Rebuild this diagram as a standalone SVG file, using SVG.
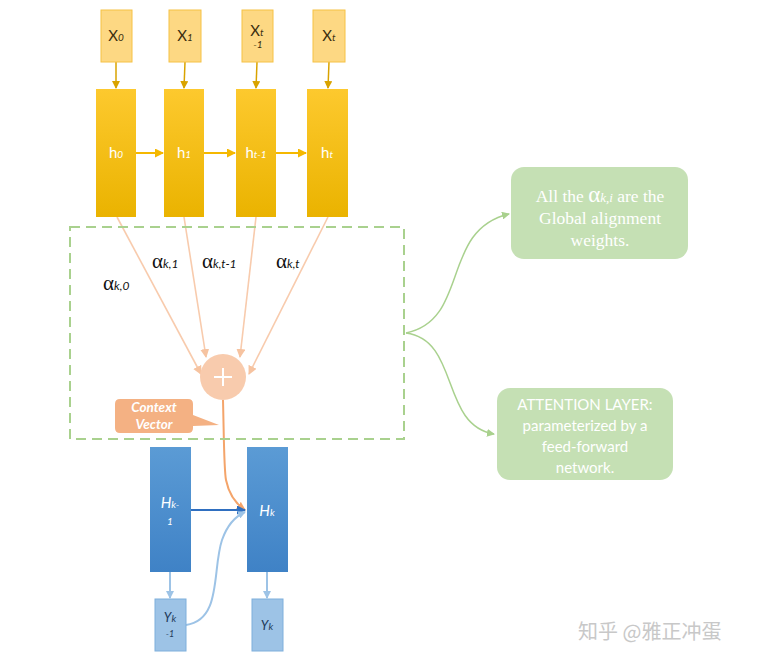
<svg xmlns="http://www.w3.org/2000/svg" width="780" height="667" viewBox="0 0 780 667">
<defs>
<linearGradient id="gy" x1="0" y1="0" x2="0" y2="1"><stop offset="0" stop-color="#fdc92e"/><stop offset="1" stop-color="#eab300"/></linearGradient>
<linearGradient id="gb" x1="0" y1="0" x2="0" y2="1"><stop offset="0" stop-color="#5b9bd5"/><stop offset="1" stop-color="#3f82c6"/></linearGradient>
<marker id="ay" markerWidth="8" markerHeight="8" refX="7" refY="4" orient="auto" markerUnits="userSpaceOnUse"><path d="M0,0 L8,4 L0,8 Z" fill="#d9a300"/></marker>
<marker id="ah" markerWidth="9" markerHeight="9" refX="8" refY="4.5" orient="auto" markerUnits="userSpaceOnUse"><path d="M0,0 L9,4.5 L0,9 Z" fill="#f5b800"/></marker>
<marker id="ap" markerWidth="9" markerHeight="9" refX="8" refY="4.5" orient="auto" markerUnits="userSpaceOnUse"><path d="M0,0 L9,4.5 L0,9 Z" fill="#f6c3a0"/></marker>
<marker id="ao" markerWidth="9" markerHeight="9" refX="8" refY="4.5" orient="auto" markerUnits="userSpaceOnUse"><path d="M0,0 L9,4.5 L0,9 Z" fill="#f4a46a"/></marker>
<marker id="ab" markerWidth="9" markerHeight="9" refX="8" refY="4.5" orient="auto" markerUnits="userSpaceOnUse"><path d="M0,0 L9,4.5 L0,9 Z" fill="#2f6fc0"/></marker>
<marker id="al" markerWidth="8" markerHeight="8" refX="7" refY="4" orient="auto" markerUnits="userSpaceOnUse"><path d="M0,0 L8,4 L0,8 Z" fill="#9dc3e6"/></marker>
<marker id="ag" markerWidth="8" markerHeight="8" refX="7" refY="4" orient="auto" markerUnits="userSpaceOnUse"><path d="M0,0 L8,4 L0,8 Z" fill="#a9d18e"/></marker>
</defs>
<style>
.xb{fill:#fdd883;stroke:#f6c244;stroke-width:1}
.hb{fill:url(#gy)}
.bb{fill:url(#gb)}
.yb{fill:#9dc3e6;stroke:#7fafdc;stroke-width:1}
.gbx{fill:#c5e0b4}
.t{font-family:Lato,"Open Sans","Liberation Sans",sans-serif}
.xt{font-size:15px;fill:#3a2e10;text-anchor:middle}
.ht{font-size:15px;fill:#ffffff;text-anchor:middle}
.sub{font-style:italic;font-size:10px}
.al{font-size:21px;fill:#111;font-family:"Liberation Serif",serif}
.als{font-size:12px;font-style:italic;font-family:Lato,"Liberation Sans",sans-serif}
.gt{fill:#ffffff;font-size:15px;text-anchor:middle}
.sf{font-family:"Liberation Serif","DejaVu Serif",serif;font-size:17.5px}
</style>
<rect width="780" height="667" fill="#ffffff"/>

<g id="connectors">
<g stroke="#d9a300" stroke-width="1.5" fill="none" marker-end="url(#ay)">
<line x1="116" y1="62" x2="116" y2="88"/>
<line x1="185" y1="62" x2="184" y2="88"/>
<line x1="257" y1="62" x2="256" y2="88"/>
<line x1="329" y1="62" x2="328" y2="88"/>
</g>
<g stroke="#f5b800" stroke-width="2" fill="none" marker-end="url(#ah)">
<line x1="136" y1="153" x2="163" y2="153"/>
<line x1="204" y1="153" x2="235" y2="153"/>
<line x1="276" y1="153" x2="306" y2="153"/>
</g>
<g stroke="#f8cbad" stroke-width="1.6" fill="none" marker-end="url(#ap)">
<line x1="117" y1="217" x2="201" y2="374"/>
<line x1="184" y1="217" x2="206" y2="357"/>
<line x1="256" y1="217" x2="240" y2="357"/>
<line x1="328" y1="217" x2="249" y2="374"/>
</g>
<path d="M223,400 C224,440 224,470 226,480 C229,495 236,504 245,510" fill="none" stroke="#f4a46a" stroke-width="2" marker-end="url(#ao)"/>
<line x1="191" y1="510" x2="245" y2="510" stroke="#2f6fc0" stroke-width="2" marker-end="url(#ab)"/>
<g stroke="#9dc3e6" stroke-width="2" fill="none" marker-end="url(#al)">
<line x1="170" y1="572" x2="170" y2="598"/>
<line x1="267" y1="572" x2="267" y2="598"/>
<path d="M186,625 C222,620 212,570 222,540 C228,523 236,516 245,512"/>
</g>
<g stroke="#a9d18e" stroke-width="1.5" fill="none" marker-end="url(#ag)">
<path d="M406,333 C470,320 440,230 509,214"/>
<path d="M406,333 C460,340 440,425 494,434"/>
</g>
</g>

<rect id="attention-box" x="70" y="227" width="334" height="212" fill="none" stroke="#a9d18e" stroke-width="2" stroke-dasharray="10,6"/>

<g id="x0"><rect class="xb" x="101" y="10" width="31" height="52"/><text class="t xt" x="116" y="41">X<tspan class="sub">0</tspan></text></g>
<g id="x1"><rect class="xb" x="169" y="10" width="32" height="52"/><text class="t xt" x="185" y="41">X<tspan class="sub">1</tspan></text></g>
<g id="xt1"><rect class="xb" x="242" y="10" width="31" height="52"/><text class="t xt" x="257" y="36">X<tspan class="sub">t</tspan></text><text class="t xt sub" x="258" y="48">-1</text></g>
<g id="xt"><rect class="xb" x="313" y="10" width="32" height="52"/><text class="t xt" x="329" y="41">X<tspan class="sub">t</tspan></text></g>

<g id="h0"><rect class="hb" x="96" y="89" width="40" height="128"/><text class="t ht" x="116" y="158">h<tspan class="sub">0</tspan></text></g>
<g id="h1"><rect class="hb" x="164" y="89" width="40" height="128"/><text class="t ht" x="184" y="158">h<tspan class="sub">1</tspan></text></g>
<g id="ht1"><rect class="hb" x="236" y="89" width="40" height="128"/><text class="t ht" x="256" y="158">h<tspan class="sub">t-1</tspan></text></g>
<g id="ht"><rect class="hb" x="307" y="89" width="41" height="128"/><text class="t ht" x="327" y="158">h<tspan class="sub">t</tspan></text></g>

<g id="alpha-labels">
<text class="al" x="103" y="290">α<tspan class="als">k,0</tspan></text>
<text class="al" x="152" y="268">α<tspan class="als">k,1</tspan></text>
<text class="al" x="202" y="268">α<tspan class="als">k,t-1</tspan></text>
<text class="al" x="276" y="268">α<tspan class="als">k,t</tspan></text>
</g>

<g id="sum"><circle cx="223" cy="377" r="23" fill="#f8cbad"/><path d="M223,368 V386 M214,377 H232" stroke="#ffffff" stroke-width="2"/></g>

<g id="context-vector">
<path d="M120,399 H188 Q193,399 193,404 V415 L219,425 L193,426 V428 Q193,433 188,433 H120 Q115,433 115,428 V404 Q115,399 120,399 Z" fill="#f4b183"/>
<text class="t" x="154" y="412" text-anchor="middle" fill="#fff" font-size="13.5" font-style="italic" font-weight="bold">Context</text>
<text class="t" x="154" y="429" text-anchor="middle" fill="#fff" font-size="13.5" font-style="italic" font-weight="bold">Vector</text>
</g>

<g id="hk1"><rect class="bb" x="150" y="447" width="41" height="125"/><text class="t ht" x="170" y="508" font-style="italic">H<tspan class="sub">k-</tspan></text><text class="t ht sub" x="170" y="525" font-size="11">1</text></g>
<g id="hk"><rect class="bb" x="247" y="447" width="41" height="125"/><text class="t ht" x="267" y="516" font-style="italic">H<tspan class="sub">k</tspan></text></g>
<g id="yk1"><rect class="yb" x="155" y="599" width="31" height="52"/><text class="t" x="170" y="622" text-anchor="middle" font-size="13" font-style="italic" fill="#1f3a5a">Y<tspan class="sub">k</tspan></text><text class="t" x="170" y="637" text-anchor="middle" font-size="9" font-style="italic" fill="#1f3a5a">-1</text></g>
<g id="yk"><rect class="yb" x="252" y="599" width="31" height="52"/><text class="t" x="267" y="630" text-anchor="middle" font-size="13" font-style="italic" fill="#1f3a5a">Y<tspan class="sub">k</tspan></text></g>

<g id="note-alignment"><rect class="gbx" x="511" y="167" width="177" height="92" rx="13"/>
<text class="gt sf" x="600" y="202">All the <tspan font-size="23">α</tspan><tspan font-style="italic" font-size="13">k,i</tspan> are the</text>
<text class="gt sf" x="600" y="224">Global alignment</text>
<text class="gt sf" x="600" y="246">weights.</text>
</g>
<g id="note-attention"><rect class="gbx" x="497" y="388" width="176" height="92" rx="13"/>
<text class="t gt" x="585" y="410">ATTENTION LAYER:</text>
<text class="t gt" x="585" y="431">parameterized by a</text>
<text class="t gt" x="585" y="452">feed-forward</text>
<text class="t gt" x="585" y="473">network.</text>
</g>

<text x="578" y="639" font-family="'Noto Sans CJK SC',sans-serif" font-size="20" fill="#c8c8c8">知乎 @雅正冲蛋</text>
</svg>
